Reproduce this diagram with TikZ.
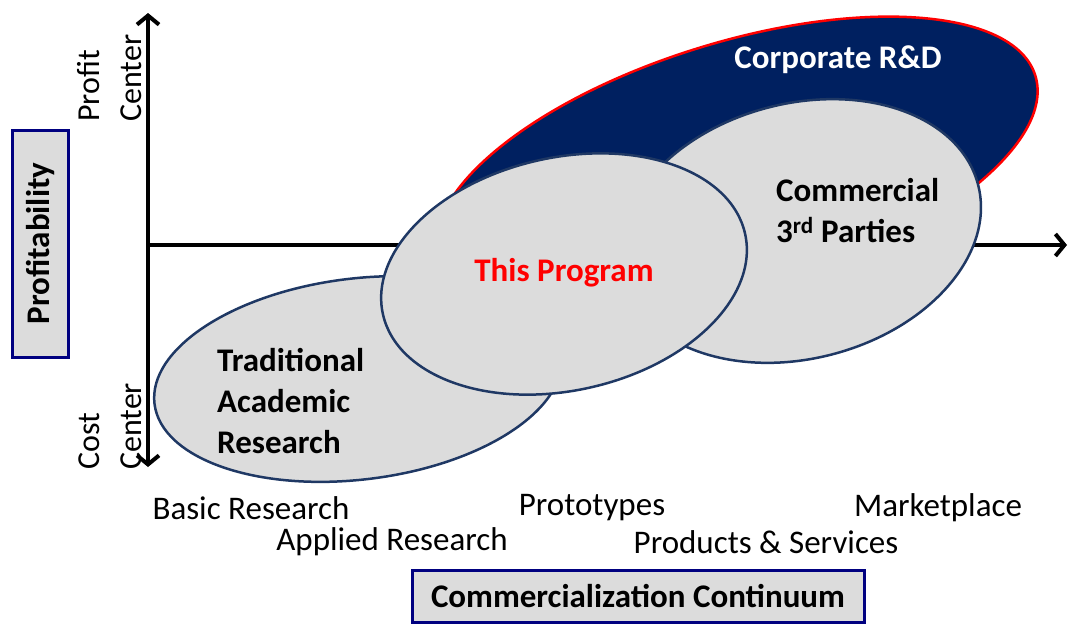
\documentclass[tikz,border=0pt]{standalone}
\usepackage{fontspec}
\setmainfont{Carlito}
\usetikzlibrary{shapes.geometric,arrows.meta}
\definecolor{ovalline}{RGB}{31,56,100}
\definecolor{corpfill}{RGB}{0,32,96}
\definecolor{ovalgray}{RGB}{220,220,220}
\definecolor{boxline}{RGB}{0,0,128}
\definecolor{progred}{RGB}{255,0,0}
\tikzset{
  barb/.tip={Straight Barb[length=9pt,width=22pt,line width=4pt]},
  axis/.style={line width=4pt, black},
  oval/.style={ellipse, draw=ovalline, line width=2.5pt, fill=ovalgray, inner sep=0pt},
  stage/.style={font=\fontsize{33}{38}\selectfont, inner sep=0pt},
  ovaltext/.style={font=\fontsize{33}{41}\selectfont\bfseries, align=left, inner sep=0pt},
  sidetext/.style={font=\fontsize{32}{36}\selectfont, inner sep=0pt, rotate=90, anchor=west},
  titlebox/.style={draw=boxline, line width=3pt, fill=ovalgray, inner sep=0pt,
    font=\fontsize{33}{38}\selectfont\bfseries}
}
\begin{document}
\begin{tikzpicture}[x=1pt, y=-1pt]
\useasboundingbox (0,0) rectangle (1070,624);

% axes
\coordinate (origin) at (148,245);
\coordinate (ytop) at (148,13);
\coordinate (ybot) at (148,467);
\coordinate (xend) at (1067,245);
\draw[axis, barb-barb] (ybot) -- (ytop);
\draw[axis, -barb] (origin) -- (xend);

% ovals, back to front
\node[oval, draw=progred, fill=corpfill, minimum width=624pt, minimum height=250pt, rotate=17] (corp) at (737,167) {};
\node[oval, minimum width=368pt, minimum height=255pt, rotate=14.6] (comm) at (800,231) {};
\node[oval, minimum width=410pt, minimum height=201pt, rotate=7] (trad) at (358,379) {};
\node[oval, minimum width=371pt, minimum height=233pt, rotate=12.5] (prog) at (564,274) {};

% oval labels
\node[ovaltext, text=white] (corplbl) at (838,60) {Corporate R\&D};
\node[ovaltext, anchor=west] (commlbl) at (776,211) {Commercial\\3\textsuperscript{rd} Parties};
\node[ovaltext, anchor=west] (tradlbl) at (217,401) {Traditional\\Academic\\Research};
\node[ovaltext, text=progred] (proglbl) at (564,273) {This Program};

% ends of the vertical axis
\node[sidetext] (profit) at (89,122) {Profit};
\node[sidetext] (profitc) at (131,122) {Center};
\node[sidetext] (cost) at (89,470) {Cost};
\node[sidetext] (costc) at (131,470) {Center};

% stages along the horizontal axis
\node[stage] (basic) at (251,508) {Basic Research};
\node[stage] (applied) at (392,542) {Applied Research};
\node[stage] (proto) at (592,508) {Prototypes};
\node[stage] (products) at (766,542) {Products \& Services};
\node[stage] (market) at (938,508) {Marketplace};

% axis titles
\node[titlebox, rotate=90, minimum width=227pt, minimum height=56pt] (ytitle) at (40,243.5) {Profitability};
\node[titlebox, minimum width=452pt, minimum height=52pt] (xtitle) at (638,596) {Commercialization Continuum};
\end{tikzpicture}
\end{document}
